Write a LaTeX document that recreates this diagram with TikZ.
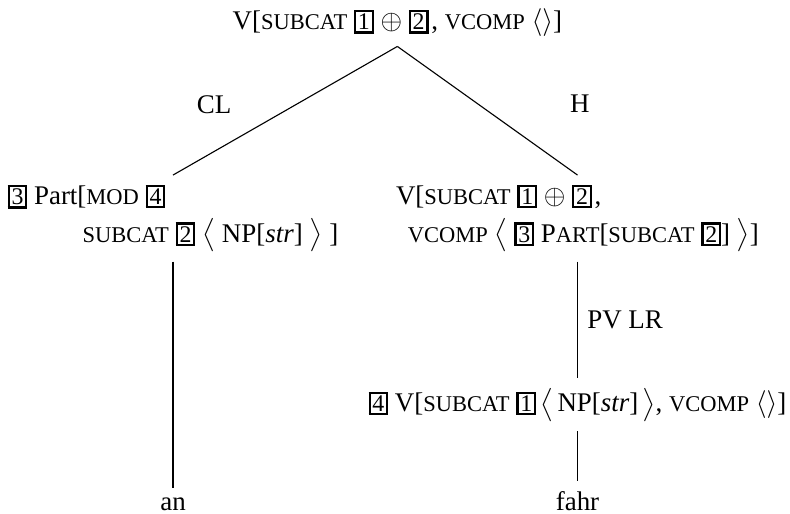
\documentclass[tikz,border=0pt]{standalone}
\usepackage{fontspec}
\setmainfont{Liberation Serif}
\usetikzlibrary{positioning}

\newcommand\fsc[1]{{\fontsize{8.1}{9}\selectfont\MakeUppercase{#1}}}
\newcommand\bx[1]{{\setlength\fboxsep{0.6pt}\setlength\fboxrule{0.8pt}\fbox{\fontsize{8.6}{9}\selectfont #1}}}

\begin{document}
\begin{tikzpicture}[font=\fontsize{9.7}{12.5}\selectfont,
  cat/.style={anchor=north,align=left},
  branch/.style={line width=0.4pt}]

\useasboundingbox (0,0) rectangle (10,6.506);

\node (top) at (5.03,6.13) [anchor=base]
  {V[\fsc{subcat} \bx{1} $\oplus$ \bx{2}\kern1pt, \fsc{vcomp} $\langle\rangle$]};

\node (part) at (2.19,4.29) [cat]
  {\bx{3} Part[\fsc{mod} \bx{4}\\[1pt]
   \hspace*{0.95cm}\fsc{subcat} \bx{2} $\big\langle$ NP[\textit{str}] $\big\rangle$ ]};

\node (verb) at (7.31,4.29) [cat]
  {V[\fsc{subcat} \bx{1} $\oplus$ \bx{2}\kern1pt,\\[1pt]
   \hspace*{0.15cm}\fsc{vcomp} $\big\langle$ \bx{3} P\fsc{art}[\fsc{subcat} \bx{2}] $\big\rangle$]};

\node (lex) at (7.31,1.72) [anchor=north,inner xsep=0pt]
  {\bx{4} V[\fsc{subcat} \bx{1}\kern1.5pt$\big\langle$\kern1.5pt NP[\textit{str}]\kern1.5pt$\big\rangle$, \fsc{vcomp} $\langle\rangle$]};

\node (an) at (2.19,0.05) [anchor=base] {an};
\node (fahr) at (7.31,0.05) [anchor=base] {fahr};

\node (cl) at (2.71,5.18) {CL};
\node (h) at (7.34,5.19) {H};

\draw[branch] (top.south)--(part.north);
\draw[branch] (top.south)--(verb.north);
\draw[branch] (part.south)--(an.north);
\draw[branch] (verb.south)--(lex.north) node[midway,right] {PV LR};
\draw[branch] (lex.south)--(fahr.north);

\end{tikzpicture}
\end{document}
